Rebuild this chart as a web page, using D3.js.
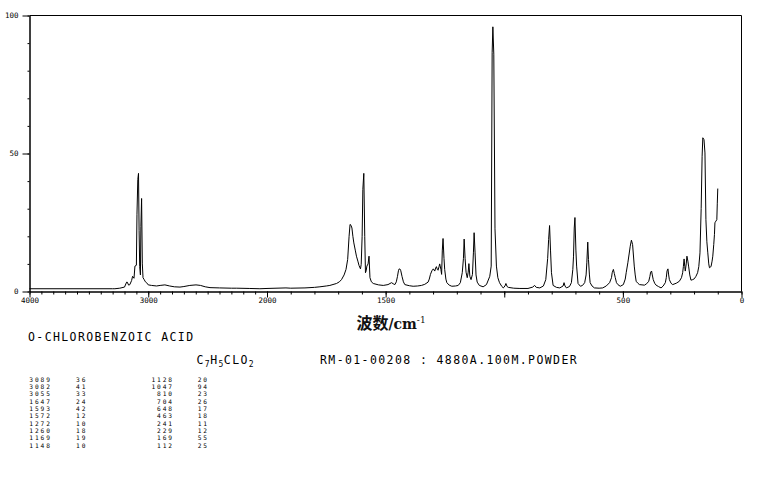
<!DOCTYPE html>
<html>
<head>
<meta charset="utf-8">
<script src="https://cdn.jsdelivr.net/npm/d3@7"></script>
<style>
  html, body { margin: 0; padding: 0; background: #fff; }
  svg { display: block; }
</style>
</head>
<body>
<svg id="chart" width="765" height="480"></svg>
<script>
// ---- data ----
const wavenumbers = [
  4000, 3300, 3281, 3240, 3200, 3182, 3177, 3165, 3155, 3140, 3132, 3120, 3112, 3100, 3095, 3088, 3082, 3077, 3072, 3066,
  3062, 3056, 3050, 3044, 3034, 3024, 3014, 3000, 2972, 2930, 2900, 2860, 2820, 2780, 2733, 2700, 2650, 2598, 2560, 2520,
  2480, 2400, 2300, 2255, 2150, 2060, 2000, 1920, 1900, 1840, 1800, 1777, 1750, 1735, 1707, 1695, 1686, 1675, 1667, 1660,
  1654, 1650, 1646, 1642, 1638, 1634, 1628, 1623, 1617, 1612, 1606, 1603, 1599, 1596, 1592, 1588, 1585, 1582, 1579, 1574,
  1570, 1566, 1560, 1552, 1530, 1510, 1490, 1475, 1468, 1461, 1455, 1450, 1446, 1443, 1438, 1436, 1431, 1425, 1419, 1400,
  1384, 1365, 1349, 1335, 1321, 1316, 1311, 1305, 1299, 1293, 1289, 1286, 1282, 1279, 1275, 1272, 1267, 1264, 1261, 1258,
  1254, 1251, 1246, 1242, 1232, 1221, 1205, 1194, 1185, 1177, 1172, 1169, 1165, 1161, 1156, 1152, 1149, 1145, 1140, 1134,
  1130, 1127, 1123, 1119, 1114, 1105, 1089, 1075, 1061, 1055, 1051, 1048, 1044, 1039, 1033, 1027, 1020, 1010, 1004, 997,
  993, 988, 983, 960, 934, 900, 880, 872, 865, 850, 835, 825, 817, 813, 809, 805, 801, 794, 780, 766,
  752, 748, 744, 738, 725, 717, 711, 708, 705, 702, 698, 695, 689, 679, 670, 661, 655, 652, 648, 645,
  641, 638, 630, 620, 600, 585, 570, 556, 548, 545, 540, 536, 532, 527, 521, 511, 498, 490, 486, 479,
  469, 464, 459, 452, 448, 444, 437, 430, 409, 400, 391, 386, 383, 379, 376, 372, 366, 360, 350, 339,
  330, 321, 317, 314, 310, 307, 304, 297, 290, 275, 262, 253, 248, 245, 242, 239, 237, 233, 230, 226,
  223, 218, 213, 206, 199, 192, 185, 180, 175, 170, 166, 163, 158, 154, 150, 146, 142, 138, 135, 131,
  128, 124, 121, 117, 114, 112, 108, 104, 102, 100
];
const intensities = [
  1.0, 1.0, 1.0, 1.2, 1.6, 3.4, 3.4, 2.3, 2.5, 4.0, 5.5, 4.8, 9.2, 9.5, 28, 40.6, 42.8, 22, 9, 6,
  23.6, 33.7, 10, 5, 4.3, 3.5, 3.2, 2.4, 2.2, 2.0, 2.2, 2.4, 2.0, 1.7, 1.6, 1.8, 2.2, 2.4, 2.2, 1.7,
  1.4, 1.3, 1.2, 1.2, 1.1, 1.0, 1.1, 1.3, 1.2, 1.3, 1.5, 1.7, 2.0, 2.2, 2.9, 3.5, 4.3, 6, 8, 11.6,
  20, 24.3, 24.0, 23, 20, 17.6, 15, 12.8, 11, 9.4, 8.2, 9.8, 20, 37, 42.8, 20, 6.8, 7.5, 9.2, 10,
  12.8, 5, 3.5, 2.9, 2.4, 2.2, 2.5, 3.2, 2.8, 2.5, 3.5, 5.5, 7.5, 8.2, 8.0, 7.5, 5.5, 3.5, 2.5, 2.1,
  1.9, 2.0, 2.2, 2.6, 3.4, 4.5, 6.2, 7.5, 8.2, 7.4, 8.5, 9, 8, 7.7, 9, 10, 8, 6.2, 15, 19.2,
  12, 8, 4.5, 3.2, 2.3, 1.9, 2.0, 2.2, 3.2, 6.8, 12, 19, 12, 7, 5, 7, 10.1, 5.5, 4.3, 6.2,
  14, 21.3, 14, 6, 3.4, 2.2, 1.7, 2.5, 5.5, 9.2, 86.5, 95.9, 86, 22.7, 9.2, 5, 3.2, 1.8, 1.3, 2.0,
  2.9, 1.8, 1.5, 1.2, 1.1, 1.1, 1.6, 2.2, 1.5, 1.3, 2.0, 4.3, 12, 18.8, 23.9, 15, 6.8, 2.2, 1.5, 1.3,
  2.0, 3.2, 2.0, 1.3, 1.8, 3.2, 8, 12.8, 23, 26.8, 15, 9.2, 2.9, 1.9, 2.2, 3.2, 6, 10.4, 17.9, 11.6,
  6, 3.2, 2.0, 1.3, 1.2, 1.3, 2.0, 3.2, 5, 6.8, 8, 6.5, 5, 3.2, 2.5, 1.9, 2.5, 4.5, 6.8, 10.4,
  16.4, 18.6, 17, 9.2, 6, 3.7, 3.0, 2.5, 2.3, 2.8, 3.7, 5.5, 7, 7.4, 6, 4.3, 3.0, 2.3, 1.8, 1.3,
  2.0, 3.2, 5, 7.4, 8.2, 6, 4.3, 3.0, 2.5, 3.0, 3.7, 5, 6.8, 9, 11.8, 9, 7.4, 10, 12.8, 11,
  9.2, 6, 4.1, 4.3, 4.6, 5.5, 6.8, 9, 14, 30, 49, 55.7, 55, 50.2, 26, 18, 14, 10, 8.6, 8.8,
  9.2, 11, 12.8, 17, 20.7, 24.9, 25.5, 26, 32, 37.3
];

// axis tick values and labels
const xMajorTicks = [4000, 3000, 2000, 1500, 1000, 500, 0];
const xLabelTicks = [4000, 3000, 2000, 1500, 500, 0];
const xMinorTicks = d3.range(0, 4001, 100);
const yMajorTicks = [0, 50, 100];
const yMinorTicks = d3.range(0, 101, 10);

// text content
const compoundName = "O-CHLOROBENZOIC ACID";
const formulaParts = [["C", false], ["7", true], ["H", false], ["5", true], ["CLO", false], ["2", true]];
const sampleInfo = "RM-01-00208 : 4880A.100M.POWDER";
const peakWnA  = ["3089", "3082", "3055", "1647", "1593", "1572", "1272", "1260", "1169", "1148"];
const peakIntA = ["36", "41", "33", "24", "42", "12", "10", "18", "19", "10"];
const peakWnB  = ["1128", "1047", "810", "704", "648", "463", "241", "229", "169", "112"];
const peakIntB = ["20", "94", "23", "26", "17", "18", "11", "12", "55", "25"];

// ---- drawing ----
const svg = d3.select("#chart");
const L = 29.5, R = 741.5, T = 15.5, B = 291.5;

const x = d3.scaleLinear().domain([4000, 2000, 0]).range([L, 267, R]);
const y = d3.scaleLinear().domain([0, 100]).range([B, T]);

const tickFont = "'DejaVu Sans Mono', monospace";

// frame (top and right)
svg.append("line").attr("x1", L).attr("x2", R).attr("y1", T).attr("y2", T)
  .attr("stroke", "#000").attr("stroke-width", 1);
svg.append("line").attr("x1", R).attr("x2", R).attr("y1", T).attr("y2", B)
  .attr("stroke", "#000").attr("stroke-width", 1);

// x axis
svg.append("g").attr("transform", `translate(0,${B})`)
  .call(d3.axisBottom(x).tickValues(xMinorTicks).tickSize(3).tickSizeOuter(0).tickFormat(""));
const gx = svg.append("g").attr("transform", `translate(0,${B})`)
  .call(d3.axisBottom(x).tickValues(xMajorTicks).tickSize(6).tickSizeOuter(0)
    .tickFormat(d => xLabelTicks.includes(d) ? String(d) : ""));
gx.selectAll("text").attr("font-family", tickFont).attr("font-size", 7.5).attr("fill", "#000").attr("dy", "0.55em").attr("y", 7);

// y axis
svg.append("g").attr("transform", `translate(${L},0)`)
  .call(d3.axisLeft(y).tickValues(yMinorTicks).tickSize(2).tickSizeOuter(0).tickFormat(""));
const gy = svg.append("g").attr("transform", `translate(${L},0)`)
  .call(d3.axisLeft(y).tickValues(yMajorTicks).tickSize(7).tickSizeOuter(0));
gy.selectAll("text").attr("font-family", tickFont).attr("font-size", 7.5).attr("fill", "#000").attr("x", -11);

svg.selectAll(".domain").attr("stroke", "#000");
svg.selectAll(".tick line").attr("stroke", "#000");

// spectrum
const pts = wavenumbers.map((w, i) => [w, intensities[i]]);
svg.append("path")
  .datum(pts)
  .attr("fill", "none")
  .attr("stroke", "#000")
  .attr("stroke-width", 1)
  .attr("d", d3.line().x(d => x(d[0])).y(d => y(d[1])));

// axis title
const title = svg.append("text").attr("x", 391).attr("y", 329).attr("text-anchor", "middle").attr("fill", "#111");
title.append("tspan").attr("font-family", "'Noto Sans CJK SC', sans-serif").attr("font-weight", 700).attr("font-size", 16).text("波数");
title.append("tspan").attr("font-family", "'DejaVu Serif', serif").attr("font-weight", 700).attr("font-size", 14).text("/cm");
title.append("tspan").attr("font-family", "'DejaVu Serif', serif").attr("font-size", 9).attr("dy", -6).text("-1");

// compound name and info
const infoFont = "'DejaVu Sans Mono', monospace";
svg.append("text").attr("x", 28).attr("y", 340.5).attr("font-family", infoFont).attr("font-size", 11.5)
  .attr("letter-spacing", 1.4).attr("fill", "#000").text(compoundName);

const f = svg.append("text").attr("x", 196.5).attr("y", 363.5).attr("font-family", infoFont)
  .attr("fill", "#000");
formulaParts.forEach(([s, sub], i) => {
  const t = f.append("tspan").text(s);
  if (sub) t.attr("font-size", 8).attr("dy", 3).attr("letter-spacing", 0.5);
  else t.attr("font-size", 11.5).attr("letter-spacing", 1.4).attr("dy", i === 0 ? 0 : -3);
});

svg.append("text").attr("x", 320).attr("y", 363.5).attr("font-family", infoFont).attr("font-size", 11.5)
  .attr("letter-spacing", 1.4).attr("fill", "#000").text(sampleInfo);

// peak table
const rowY0 = 381.7, rowH = 7.33;
const tbl = svg.append("g").attr("font-family", infoFont).attr("font-size", 6.2).attr("fill", "#000");
function col(values, xPos, anchor) {
  tbl.selectAll(null).data(values).enter().append("text")
    .attr("x", xPos).attr("y", (d, i) => rowY0 + i * rowH)
    .attr("text-anchor", anchor).attr("letter-spacing", 1.9)
    .text(d => d);
}
col(peakWnA, 29.3, "start");
col(peakIntA, 76, "start");
col(peakWnB, 174, "end");
col(peakIntB, 197.7, "start");
</script>
</body>
</html>
